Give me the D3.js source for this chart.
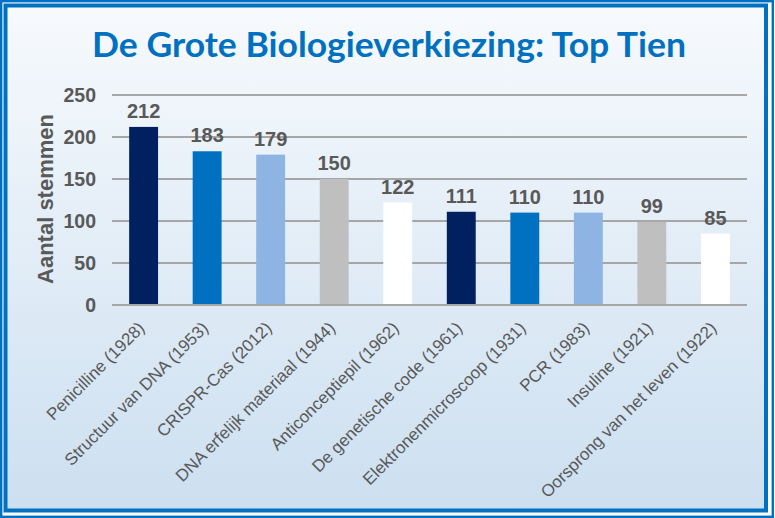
<!DOCTYPE html>
<html>
<head>
<meta charset="utf-8">
<script src="https://cdn.jsdelivr.net/npm/d3@7/dist/d3.min.js"></script>
<style>
  html, body { margin: 0; padding: 0; background: #ffffff; }
  svg { display: block; }
</style>
</head>
<body>
<svg id="chart" width="775" height="518"></svg>
<script>
const categories = [
  "Penicilline (1928)",
  "Structuur van DNA (1953)",
  "CRISPR-Cas (2012)",
  "DNA erfelijk materiaal (1944)",
  "Anticonceptiepil (1962)",
  "De genetische code (1961)",
  "Elektronenmicroscoop (1931)",
  "PCR (1983)",
  "Insuline (1921)",
  "Oorsprong van het leven (1922)"
];
const votes = [212, 183, 179, 150, 122, 111, 110, 110, 99, 85];
const barColors = ["#002060", "#0070C0", "#8DB4E2", "#BFBFBF", "#FFFFFF"];
const yTicks = [0, 50, 100, 150, 200, 250];
const titleText = "De Grote Biologieverkiezing: Top Tien";
const yAxisTitle = "Aantal stemmen";

const W = 775, H = 518;
const svg = d3.select("#chart");

// background gradient
const defs = svg.append("defs");
const grad = defs.append("linearGradient").attr("id", "bg")
  .attr("x1", 0).attr("y1", 0).attr("x2", 0).attr("y2", 1);
grad.append("stop").attr("offset", "0%").attr("stop-color", "#F7FAFD");
grad.append("stop").attr("offset", "100%").attr("stop-color", "#CCDFF0");

// outer frame
svg.append("rect").attr("x", 0).attr("y", 0).attr("width", W).attr("height", H).attr("fill", "#ffffff");
svg.append("rect").attr("x", 1.2).attr("y", 1.2).attr("width", 771.6).attr("height", 515.6)
  .attr("fill", "none").attr("stroke", "#0070C0").attr("stroke-width", 2.4);
svg.append("rect").attr("x", 5.5).attr("y", 5.5).attr("width", 760.5).attr("height", 505)
  .attr("fill", "url(#bg)").attr("stroke", "#0070C0").attr("stroke-width", 4);

const x = d3.scaleBand().domain(categories).range([112, 747]).paddingInner(0.545).paddingOuter(0.27);
const y = d3.scaleLinear().domain([0, 250]).range([305, 95]);

// title
svg.append("text")
  .attr("x", 389).attr("y", 57)
  .attr("text-anchor", "middle")
  .attr("font-family", "Lato, 'Open Sans', sans-serif")
  .attr("font-weight", "bold")
  .attr("font-size", 34)
  .attr("fill", "#0070C0")
  .attr("textLength", 594)
  .attr("lengthAdjust", "spacingAndGlyphs")
  .text(titleText);

// gridlines
svg.append("g").selectAll("line").data(yTicks).join("line")
  .attr("x1", 112).attr("x2", 747)
  .attr("y1", d => y(d)).attr("y2", d => y(d))
  .attr("stroke", "#A6A6A6").attr("stroke-width", 2);

// y axis labels
const yAxis = d3.axisLeft(y).tickValues(yTicks).tickSize(0).tickPadding(0);
const gy = svg.append("g").attr("transform", "translate(96,0)").call(yAxis);
gy.select(".domain").remove();
gy.selectAll("text")
  .attr("font-family", "'Liberation Sans', Arial, sans-serif")
  .attr("font-weight", "bold")
  .attr("font-size", 19.5)
  .attr("fill", "#595959");

// y axis title
svg.append("text")
  .attr("transform", "translate(53,199) rotate(-90)")
  .attr("text-anchor", "middle")
  .attr("font-family", "'Liberation Sans', Arial, sans-serif")
  .attr("font-weight", "bold")
  .attr("font-size", 22)
  .attr("fill", "#595959")
  .text(yAxisTitle);

// bars
svg.append("g").selectAll("rect").data(votes).join("rect")
  .attr("x", (d, i) => x(categories[i]))
  .attr("y", d => y(d))
  .attr("width", x.bandwidth())
  .attr("height", d => y(0) - y(d) - 1)
  .attr("fill", (d, i) => barColors[i % barColors.length]);

// value labels
svg.append("g").selectAll("text").data(votes).join("text")
  .attr("x", (d, i) => x(categories[i]) + x.bandwidth() / 2)
  .attr("y", d => y(d) - 9)
  .attr("text-anchor", "middle")
  .attr("font-family", "'Liberation Sans', Arial, sans-serif")
  .attr("font-weight", "bold")
  .attr("font-size", 20)
  .attr("fill", "#595959")
  .text(d => d);

// x axis labels
const xAxis = d3.axisBottom(x).tickSize(0).tickPadding(0);
const gx = svg.append("g").attr("transform", "translate(0,305)").call(xAxis);
gx.select(".domain").remove();
gx.selectAll(".tick text")
  .attr("text-anchor", "end")
  .attr("dy", 0)
  .attr("y", 0)
  .attr("transform", "translate(2,24) rotate(-45)")
  .attr("font-family", "'Liberation Sans', Arial, sans-serif")
  .attr("font-size", 17)
  .attr("fill", "#595959");
</script>
</body>
</html>
